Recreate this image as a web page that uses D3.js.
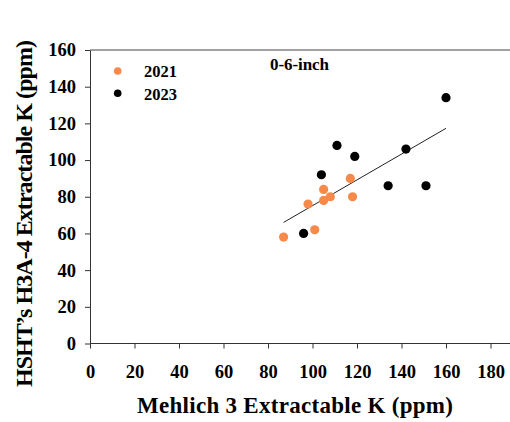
<!DOCTYPE html>
<html><head><meta charset="utf-8">
<script src="https://cdn.jsdelivr.net/npm/d3@7"></script>
<style>body{margin:0;background:#fff}svg{display:block}text{font-family:"Liberation Serif","DejaVu Serif",serif;font-weight:bold;fill:#000}</style>
</head><body><svg id="c" width="510" height="422"></svg>
<script>
const series2021X = [87, 101, 98, 105, 105, 108, 117, 118];
const series2021Y = [58, 62, 76, 78, 84, 80, 90, 80];
const series2023X = [96, 104, 111, 119, 134, 142, 151, 160];
const series2023Y = [60, 92, 108, 102, 86, 106, 86, 134];
const trendX = [87, 160];
const trendY = [66, 117.3];
const xTicks = [0, 20, 40, 60, 80, 100, 120, 140, 160, 180];
const yTicks = [0, 20, 40, 60, 80, 100, 120, 140, 160];
const legendLabels = ["2021", "2023"];
const colors = ["#f7894a", "#000000"];

const svg = d3.select("#c");
const x = d3.scaleLinear().domain([0, 180]).range([90, 490.5]);
const y = d3.scaleLinear().domain([0, 160]).range([343.5, 50]);
const xEnd = 510;

// frame top line
svg.append("line").attr("x1", 90).attr("x2", xEnd).attr("y1", 50).attr("y2", 50).attr("stroke", "#444").attr("stroke-width", 1);

const xAxis = svg.append("g").attr("transform", "translate(0,343.5)")
  .call(d3.axisBottom(x).tickValues(xTicks).tickSize(5).tickPadding(16).tickSizeOuter(0));
xAxis.select(".domain").attr("d", `M90,0H${xEnd}`);
const yAxis = svg.append("g").attr("transform", "translate(90,0)")
  .call(d3.axisLeft(y).tickValues(yTicks).tickSize(5).tickPadding(9).tickSizeOuter(0));
svg.selectAll(".domain").attr("stroke", "#333");
svg.selectAll(".tick line").attr("stroke", "#333");
svg.selectAll(".tick text").style("font-size", "18.5px").style("font-family", '"Liberation Serif","DejaVu Serif",serif').style("font-weight", "bold").attr("fill", "#000");

// trendline
svg.append("line")
  .attr("x1", x(trendX[0])).attr("y1", y(trendY[0]))
  .attr("x2", x(trendX[1])).attr("y2", y(trendY[1]))
  .attr("stroke", "#222").attr("stroke-width", 1);

const d2021 = series2021X.map((v, i) => [v, series2021Y[i]]);
const d2023 = series2023X.map((v, i) => [v, series2023Y[i]]);
[[d2021, colors[0]], [d2023, colors[1]]].forEach(([d, c]) => {
  svg.append("g").selectAll("circle").data(d).join("circle")
    .attr("cx", p => x(p[0])).attr("cy", p => y(p[1])).attr("r", 4.6).attr("fill", c);
});

// legend
legendLabels.forEach((l, i) => {
  const cy = 71 + i * 22.3;
  svg.append("circle").attr("cx", 117.7).attr("cy", cy).attr("r", 3.8).attr("fill", colors[i]);
  svg.append("text").attr("x", 144).attr("y", cy + 6.3).style("font-size", "16.5px").text(l);
});
svg.append("text").attr("x", 270).attr("y", 70).style("font-size", "17px").attr("textLength", 59).text("0-6-inch");

// axis titles
svg.append("text").attr("x", 137).attr("y", 413).style("font-size", "23px").attr("textLength", 316)
  .text("Mehlich 3 Extractable K (ppm)");
svg.append("text").attr("transform", "translate(32,387) rotate(-90)").style("font-size", "24px").attr("textLength", 347)
  .text("HSHT\u2019s H3A-4 Extractable K (ppm)");
</script></body></html>
